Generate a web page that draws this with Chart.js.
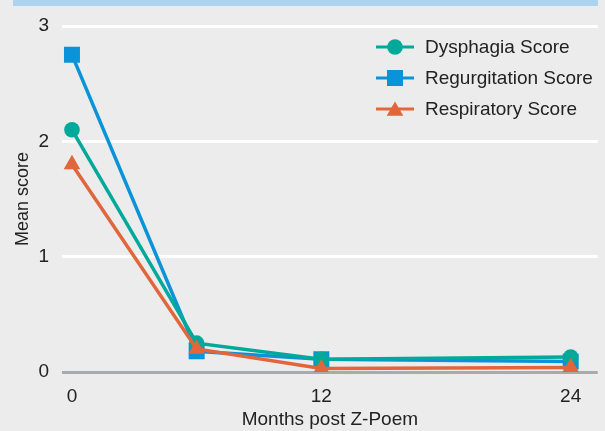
<!DOCTYPE html>
<html>
<head>
<meta charset="utf-8">
<script src="https://cdn.jsdelivr.net/npm/chart.js@4"></script>
<style>
    body { margin: 0; background: #ebeceb; overflow: hidden; }
    #wrap { position: relative; width: 605px; height: 431px; overflow: hidden; }
    #bandeau { position: absolute; top: 0; left: 13px; width: 585px; height: 6px; background: #acd3ef; }
    canvas { display: block; }
</style>
</head>
<body>
<div id="wrap">
    <div id="bandeau"></div>
    <canvas id="scoreChart" width="609" height="431"></canvas>
</div>
<script>
const mois = [0, 6, 12, 24];
const xTicks = [0, 12, 24];
const yTicks = [0, 1, 2, 3];
const dysphagia = [2.1, 0.25, 0.11, 0.13];
const regurgitation = [2.75, 0.18, 0.11, 0.09];
const respiratory = [1.8, 0.2, 0.03, 0.04];

const police = "'Liberation Sans', Arial, sans-serif";
Chart.defaults.font.family = police;
Chart.defaults.font.size = 19;
Chart.defaults.color = "#222";

function points(valeurs) {
    return mois.map((m, i) => ({ x: m, y: valeurs[i] }));
}

const series = [
    { label: "Dysphagia Score", data: points(dysphagia), color: "#00a99a", style: "circle", radius: 7.8, order: 1 },
    { label: "Regurgitation Score", data: points(regurgitation), color: "#0a93d9", style: "rect", radius: 11.3, order: 2 },
    { label: "Respiratory Score", data: points(respiratory), color: "#e1663c", style: "triangle", radius: 9.6, order: 0 },
];

// Légende dessinée à la main, dans la zone du graphique
const legendeInterne = {
    id: "legendeInterne",
    afterDraw(chart) {
        const ctx = chart.ctx;
        ctx.save();
        chart.data.datasets.forEach((ds, i) => {
            const y = 47 + i * 31;
            ctx.strokeStyle = ds.borderColor;
            ctx.lineWidth = 3;
            ctx.beginPath();
            ctx.moveTo(376, y);
            ctx.lineTo(414, y);
            ctx.stroke();
            ctx.fillStyle = ds.backgroundColor;
            Chart.helpers.drawPoint(ctx, { pointStyle: ds.pointStyle, radius: ds.pointRadius, borderWidth: 0, rotation: 0 }, 395, ds.pointStyle === "triangle" ? y + 2 : y);
            ctx.fillStyle = "#222";
            ctx.font = "19px " + police;
            ctx.textBaseline = "middle";
            ctx.fillText(ds.label, 425, y + 1);
        });
        ctx.restore();
    },
};

new Chart(document.getElementById("scoreChart"), {
    type: "line",
    data: {
        datasets: series.map(s => ({
            label: s.label,
            data: s.data,
            borderColor: s.color,
            backgroundColor: s.color,
            borderWidth: 3.5,
            pointStyle: s.style,
            pointRadius: s.radius,
            pointBorderWidth: 0,
            order: s.order,
            fill: false,
        })),
    },
    options: {
        responsive: false,
        animation: false,
        layout: { padding: { top: 26, right: 7, left: 0, bottom: 0 } },
        plugins: { legend: { display: false }, tooltip: { enabled: false } },
        scales: {
            x: {
                type: "linear",
                min: -0.48,
                max: 25.3,
                afterBuildTicks: (axe) => { axe.ticks = xTicks.map(v => ({ value: v })); },
                afterFit: (axe) => { axe.height = 59; },
                grid: { display: false, drawTicks: false },
                border: { display: false },
                ticks: { padding: 13, maxRotation: 0 },
                title: { display: true, text: "Months post Z-Poem", padding: { top: 0, bottom: 0 } },
            },
            y: {
                min: 0,
                max: 3,
                afterBuildTicks: (axe) => { axe.ticks = yTicks.map(v => ({ value: v })); },
                afterFit: (axe) => { axe.width = 62; },
                grid: {
                    drawTicks: false,
                    color: (c) => (c.tick && c.tick.value === 0 ? "#a9aaab" : "#ffffff"),
                    lineWidth: 3,
                },
                border: { display: false },
                ticks: { padding: 13 },
                title: { display: true, text: "Mean score", font: { size: 18 }, padding: { top: 12, bottom: 0 } },
            },
        },
    },
    plugins: [legendeInterne],
});
</script>
</body>
</html>
